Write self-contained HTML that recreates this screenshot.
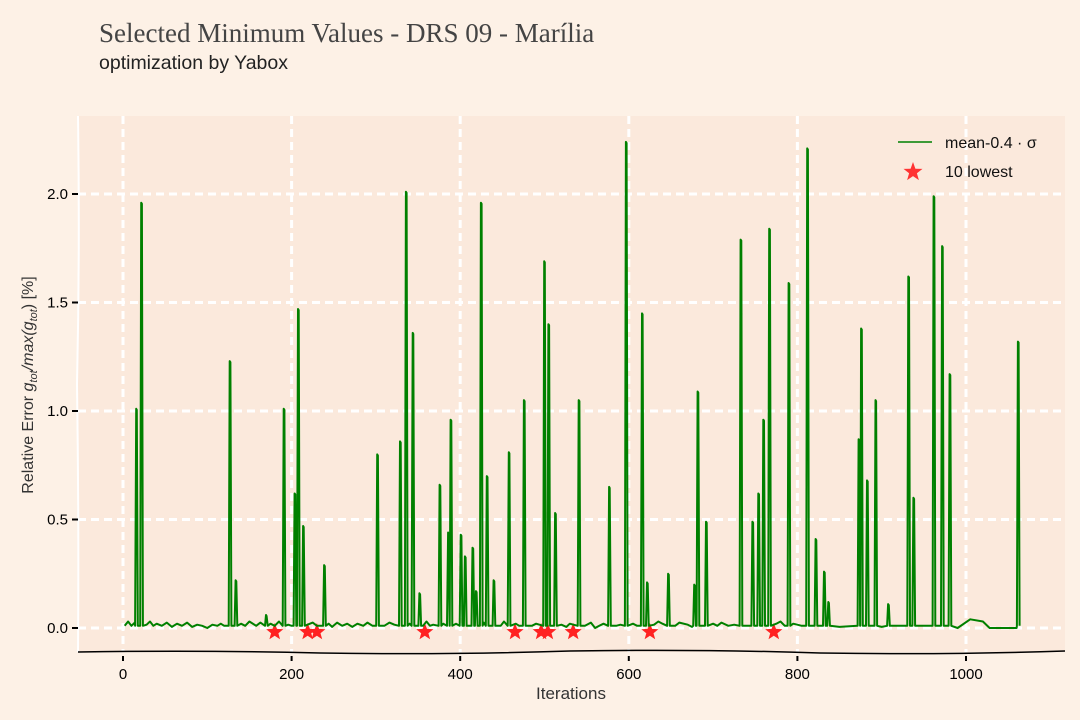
<!DOCTYPE html>
<html><head><meta charset="utf-8"><style>
html,body{margin:0;padding:0;background:#fdf1e6;}
svg{display:block}
text{font-family:"Liberation Sans",sans-serif;}
</style></head><body>
<svg id="chart" width="1080" height="720" viewBox="0 0 1080 720">
<rect width="1080" height="720" fill="#fdf1e6"/>
<text x="99" y="42" font-size="27" fill="#444" style="font-family:'Liberation Serif',serif">Selected Minimum Values - DRS 09 - Marília</text>
<text x="99" y="69" font-size="19.5" fill="#222">optimization by Yabox</text>
<rect x="78" y="116" width="987" height="536" fill="#fbe9dc"/>
<g id="grid"></g>
<g id="stars"></g>
<path id="series" fill="none" stroke="#008000" stroke-width="2" stroke-linejoin="round"/>
<path d="M78 116 Q80 250 77 384 Q79 520 78 652" stroke="#fff" stroke-width="2" fill="none"/>
<path d="M78 652 Q200 650 320 653 Q450 655 570 651 Q700 649 820 653 Q950 655 1065 651" stroke="#000" stroke-width="1.5" fill="none"/>
<g id="axes"></g>
<text x="571" y="699" font-size="17" text-anchor="middle" fill="#333">Iterations</text>
<text transform="translate(33,385) rotate(-90)" font-size="16" text-anchor="middle" fill="#333">Relative Error <tspan font-style="italic">g</tspan><tspan font-size="11" dy="4" font-style="italic">tot</tspan><tspan dy="-4" font-style="italic">/max(g</tspan><tspan font-size="11" dy="4" font-style="italic">tot</tspan><tspan dy="-4">) [%]</tspan></text>
<g>
<line x1="898" y1="142" x2="932" y2="142" stroke="#008000" stroke-width="1.5"/>
<text x="945" y="148" font-size="16" fill="#111">mean-0.4 · σ</text>
<polygon points="913,162 915.4,168.7 922.5,168.9 916.9,173.3 918.9,180.1 913,176.1 907.1,180.1 909.1,173.3 903.5,168.9 910.6,168.7" fill="#ff3333"/>
<text x="945" y="177" font-size="16" fill="#111">10 lowest</text>
</g>
</svg>
<script>
const xTicks=[0,200,400,600,800,1000];
const yTicks=[0,0.5,1.0,1.5,2.0];
const yTickLabels=["0.0","0.5","1.0","1.5","2.0"];
const spikeIters=[16,22,127,134,170,191,204,208,214,239,302,329,336,344,352,376,386,389,401,406,415,419,425,432,440,458,476,500,505,513,541,577,597,616,622,647,678,682,692,733,747,754,760,767,790,812,822,832,837,873,876,883,893,908,932,938,962,972,981,1062];
const spikeValues=[1.01,1.96,1.23,0.22,0.06,1.01,0.62,1.47,0.47,0.29,0.80,0.86,2.01,1.36,0.16,0.66,0.44,0.96,0.43,0.33,0.37,0.17,1.96,0.70,0.22,0.81,1.05,1.69,1.40,0.53,1.05,0.65,2.24,1.45,0.21,0.25,0.20,1.09,0.49,1.79,0.49,0.62,0.96,1.84,1.59,2.21,0.41,0.26,0.12,0.87,1.38,0.68,1.05,0.11,1.62,0.60,1.99,1.76,1.17,1.32];
const baseIters=[2,6,10,14,28,32,36,40,46,52,58,64,70,76,82,88,94,100,106,112,116,120,140,145,150,158,163,175,180,185,196,200,225,230,244,248,254,260,266,272,278,285,290,296,310,316,322,340,356,360,364,368,380,395,410,428,448,452,466,470,485,490,520,526,530,548,555,560,565,570,585,590,605,610,630,635,640,655,660,670,675,700,705,710,718,725,740,775,780,785,795,800,805,830,850,900,915,990,1005,1020,1028,1040,1060];
const baseValues=[0.01,0.03,0.01,0.025,0.015,0.03,0.01,0.02,0.01,0.025,0.005,0.02,0.01,0.025,0.005,0.015,0.01,0.0,0.015,0.01,0.02,0.01,0.02,0.01,0.03,0.01,0.025,0.02,0.01,0.03,0.015,0.01,0.025,0.01,0.02,0.005,0.025,0.01,0.02,0.005,0.02,0.01,0.025,0.01,0.01,0.025,0.015,0.02,0.01,0.03,0.01,0.015,0.02,0.02,0.01,0.025,0.01,0.03,0.02,0.01,0.01,0.02,0.015,0.005,0.02,0.01,0.025,0.0,0.01,0.02,0.01,0.015,0.02,0.01,0.015,0.03,0.02,0.01,0.025,0.015,0.005,0.02,0.01,0.025,0.01,0.015,0.01,0.02,0.03,0.01,0.02,0.015,0.01,0.01,0.005,0.005,0.01,0.0,0.04,0.03,0.0,0.0,0.0];
const lowestIters=[180,219,230,358,465,496,504,534,625,772];
const lowestValues=[0.0,0.0,0.0,0.0,0.0,0.0,0.0,0.0,0.0,0.0];

const NS="http://www.w3.org/2000/svg";
const x=i=>123+i*0.843;
const y=v=>628-v*217;
const grid=document.getElementById('grid'),axes=document.getElementById('axes');
xTicks.forEach((t,k)=>{
  const l=document.createElementNS(NS,'line');
  l.setAttribute('x1',x(t));l.setAttribute('x2',x(t));l.setAttribute('y1',116);l.setAttribute('y2',652);
  l.setAttribute('stroke','#fff');l.setAttribute('stroke-width','3');l.setAttribute('stroke-dasharray','8 5');
  
  
  grid.appendChild(l);
  const tk=document.createElementNS(NS,'line');
  tk.setAttribute('x1',x(t));tk.setAttribute('x2',x(t));tk.setAttribute('y1',656);tk.setAttribute('y2',661);
  tk.setAttribute('stroke','#000');tk.setAttribute('stroke-width','2');
  
  
  axes.appendChild(tk);
  const tx=document.createElementNS(NS,'text');
  tx.setAttribute('x',x(t));tx.setAttribute('y',679);tx.setAttribute('text-anchor','middle');tx.setAttribute('font-size','15');
  tx.textContent=String(t);
  
  
  axes.appendChild(tx);
});
yTicks.forEach((t,k)=>{
  const l=document.createElementNS(NS,'line');
  l.setAttribute('x1',78);l.setAttribute('x2',1065);l.setAttribute('y1',y(t));l.setAttribute('y2',y(t));
  l.setAttribute('stroke','#fff');l.setAttribute('stroke-width','3');l.setAttribute('stroke-dasharray','8 5');
  
  
  grid.appendChild(l);
  const tk=document.createElementNS(NS,'line');
  tk.setAttribute('x1',72);tk.setAttribute('x2',78);tk.setAttribute('y1',y(t));tk.setAttribute('y2',y(t));
  tk.setAttribute('stroke','#000');tk.setAttribute('stroke-width','2');
  
  
  axes.appendChild(tk);
  const tx=document.createElementNS(NS,'text');
  tx.setAttribute('x',68);tx.setAttribute('y',y(t)+5);tx.setAttribute('text-anchor','end');tx.setAttribute('font-size','15');
  tx.textContent=yTickLabels[k];
  
  
  axes.appendChild(tx);
});
// series: each spike drawn as a narrow double stroke
let pts=[];
baseIters.forEach((i,k)=>pts.push([i,baseValues[k]]));
spikeIters.forEach((i,k)=>{pts.push([i-1.6,0.01]);pts.push([i-0.4,spikeValues[k]]);pts.push([i+0.4,spikeValues[k]-0.005]);pts.push([i+1.6,0.01]);});
pts.sort((a,b)=>a[0]-b[0]);
document.getElementById('series').setAttribute('d',pts.map((p,k)=>(k?'L':'M')+x(p[0]).toFixed(1)+' '+y(p[1]).toFixed(1)).join(' '));
// stars
const stars=document.getElementById('stars');
lowestIters.forEach((i,k)=>{
  const cx=x(i),cy=y(lowestValues[k])+4,R=9,r=3.8;
  let p=[];
  for(let j=0;j<10;j++){const a=-Math.PI/2+j*Math.PI/5,rr=j%2?r:R;p.push((cx+rr*Math.cos(a)).toFixed(1)+','+(cy+rr*Math.sin(a)).toFixed(1));}
  const s=document.createElementNS(NS,'polygon');
  s.setAttribute('points',p.join(' '));s.setAttribute('fill','#ff2222');
  
  
  stars.appendChild(s);
});
</script>
</body></html>
